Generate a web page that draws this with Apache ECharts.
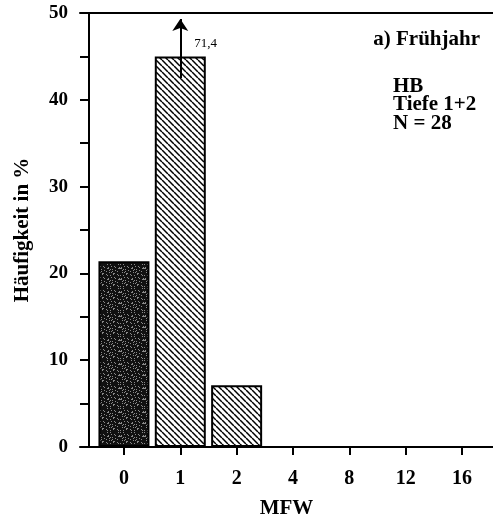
<!DOCTYPE html>
<html>
<head>
    <meta charset="utf-8">
    <script src="https://cdn.jsdelivr.net/npm/echarts@6/dist/echarts.min.js"></script>
    <style>
        body { margin: 0; background: #fff; }
    </style>
</head>
<body>
    <div id="main" style="width: 493px;height:520px;"></div>
<script type="text/javascript">
    // MFW-Klassen und Häufigkeiten (%)
    var categories = ['0', '1', '2', '4', '8', '12', '16'];
    var classIndex = [0, 1, 2];
    var percents = [21.4, 71.4, 7.1];
    var breakHeight = 45;      // Balken über 50 % werden hier abgeschnitten
    var yTicks = [0, 10, 20, 30, 40, 50];

    var serif = 'Liberation Serif';

    // Schraffur "\\\"
    function hatch() {
        var s = 6;
        var c = document.createElement('canvas');
        c.width = s; c.height = s;
        var g = c.getContext('2d');
        g.fillStyle = '#fff';
        g.fillRect(0, 0, s, s);
        g.strokeStyle = '#000';
        g.lineWidth = 1.5;
        for (var k = -1; k <= 1; k++) {
            g.beginPath();
            g.moveTo(k * s, 0);
            g.lineTo(k * s + s, s);
            g.stroke();
        }
        return c;
    }

    // dunkles Punktraster
    function stipple() {
        var s = 24;
        var c = document.createElement('canvas');
        c.width = s; c.height = s;
        var g = c.getContext('2d');
        g.fillStyle = '#111';
        g.fillRect(0, 0, s, s);
        g.fillStyle = '#8a8a8a';
        for (var i = 0; i < s; i++) {
            for (var j = 0; j < s; j++) {
                if ((i * 37 + j * 91 + i * j * 7) % 11 < 2) g.fillRect(i, j, 1, 1);
            }
        }
        return c;
    }

    var fills = [
        { image: stipple(), repeat: 'repeat' },
        { image: hatch(), repeat: 'repeat' },
        { image: hatch(), repeat: 'repeat' }
    ];

    var barData = classIndex.map(function (x, i) {
        return {
            value: [x, Math.min(percents[i], breakHeight)],
            itemStyle: { color: fills[i] }
        };
    });

    // Pfeil + Wert für abgeschnittene Balken
    var cut = [];
    classIndex.forEach(function (x, i) {
        if (percents[i] > 50) cut.push({ x: x, v: percents[i] });
    });

    var myChart = echarts.init(document.getElementById('main'));

    var option = {
        backgroundColor: '#fff',
        animation: false,
        title: [{
            text: 'a) Frühjahr',
            right: 13,
            top: 29,
            padding: 0,
            textStyle: { fontFamily: serif, fontWeight: 'bold', fontSize: 21, lineHeight: 21, color: '#000' }
        }, {
            text: 'HB\nTiefe 1+2\nN = 28',
            left: 393,
            top: 77,
            padding: 0,
            textStyle: { fontFamily: serif, fontWeight: 'bold', fontSize: 21, lineHeight: 18.5, color: '#000' }
        }],
        grid: { left: 80, right: 0, top: 13, bottom: 73, outerBoundsMode: 'none' },
        xAxis: [{
            type: 'value',
            min: -0.78,
            max: 6.55,
            name: 'MFW',
            nameLocation: 'middle',
            nameGap: 51,
            nameTextStyle: { fontFamily: serif, fontWeight: 'bold', fontSize: 21, color: '#000' },
            axisLine: { show: true, lineStyle: { color: '#000', width: 2 } },
            axisTick: { show: true, customValues: [0, 1, 2, 3, 4, 5, 6], length: 8, lineStyle: { color: '#000', width: 2 } },
            axisLabel: {
                customValues: [0, 1, 2, 3, 4, 5, 6],
                margin: 22,
                fontFamily: serif, fontWeight: 'bold', fontSize: 20, color: '#000',
                formatter: function (v) { return categories[Math.round(v)]; }
            },
            splitLine: { show: false }
        }, {
            type: 'value',
            position: 'top',
            min: -0.78,
            max: 6.55,
            axisLine: { show: true, onZero: false, lineStyle: { color: '#000', width: 2 } },
            axisTick: { show: false },
            axisLabel: { show: false },
            splitLine: { show: false }
        }],
        yAxis: {
            type: 'value',
            min: 0,
            max: 50,
            interval: 5,
            offset: -9,
            name: 'Häufigkeit in %',
            nameLocation: 'middle',
            nameGap: 56,
            nameTextStyle: { fontFamily: serif, fontWeight: 'bold', fontSize: 21, color: '#000' },
            axisLine: { show: true, onZero: false, lineStyle: { color: '#000', width: 2 } },
            axisTick: { show: true, length: 9, lineStyle: { color: '#000', width: 2 } },
            axisLabel: {
                margin: 21,
                fontFamily: serif, fontWeight: 'bold', fontSize: 19, color: '#000',
                formatter: function (v) { return yTicks.indexOf(v) >= 0 ? String(v) : ''; }
            },
            splitLine: { show: false }
        },
        series: [{
            type: 'bar',
            barWidth: 51,
            itemStyle: { borderColor: '#000', borderWidth: 2 },
            data: barData,
            markLine: {
                silent: true,
                symbol: ['none', 'arrow'],
                symbolSize: 12,
                lineStyle: { color: '#000', width: 2, type: 'solid' },
                label: { show: false },
                data: cut.map(function (c) {
                    return [{ coord: [c.x, 42.5] }, { coord: [c.x, 49.3] }];
                })
            },
            markPoint: {
                silent: true,
                symbolSize: 0,
                label: {
                    show: true,
                    position: 'right',
                    distance: 14,
                    fontFamily: serif, fontSize: 13, color: '#000',
                    formatter: function (p) { return String(p.data.v).replace('.', ','); }
                },
                data: cut.map(function (c) {
                    return { coord: [c.x, 46.5], v: c.v };
                })
            }
        }]
    };

    myChart.setOption(option);
</script>
</body>
</html>
